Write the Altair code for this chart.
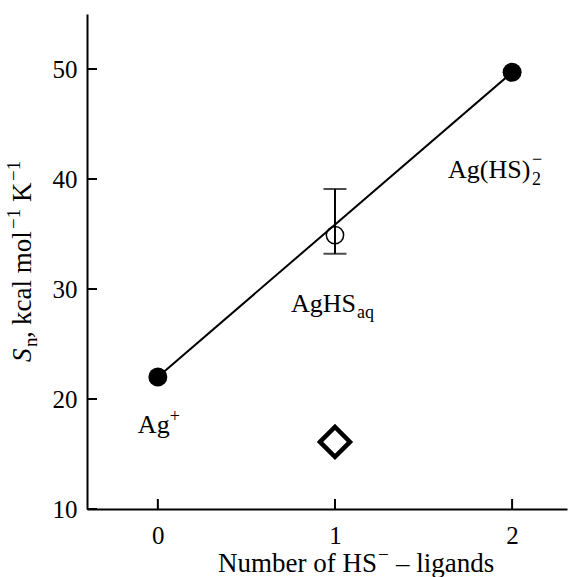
import altair as alt
import pandas as pd

SERIF = "Liberation Serif"

# ---- data ----
filled_n = [0, 2]
filled_s = [22.0, 49.7]

aq_n = [1]
aq_s = [34.9]
aq_lo = [33.2]
aq_hi = [39.1]

dia_n = [1]
dia_s = [16.1]

x_ticks = [0, 1, 2]
y_ticks = [10, 20, 30, 40, 50]

ann_n = [0, 1, 2]
ann_s = [16.9, 27.9, 40.1]
ann_main = ["Ag", "AgHS", "Ag(HS)"]

W, H = 480, 495
xs = alt.Scale(domain=[-0.4, 2.31], nice=False, zero=False)
ys = alt.Scale(domain=[10, 55], nice=False, zero=False)

df_filled = pd.DataFrame({"n": filled_n, "s": filled_s})
df_aq = pd.DataFrame({"n": aq_n, "s": aq_s, "lo": aq_lo, "hi": aq_hi})
df_dia = pd.DataFrame({"n": dia_n, "s": dia_s})
df_xt = pd.DataFrame({"v": x_ticks})
df_yt = pd.DataFrame({"v": y_ticks})
df_ann = [pd.DataFrame({"n": [ann_n[i]], "s": [ann_s[i]]}) for i in range(3)]
df_one = pd.DataFrame({"k": [0]})

X = alt.X("n:Q", scale=xs, axis=alt.Axis(values=x_ticks, format="d", title=None, grid=False, ticks=False,
          tickSize=0, labelFont=SERIF, labelFontSize=25, labelColor="black", labelPadding=14,
          domainColor="black", domainWidth=2))
Y = alt.Y("s:Q", scale=ys, axis=alt.Axis(values=y_ticks, format="d", title=None, grid=False, ticks=False,
          tickSize=0, labelFont=SERIF, labelFontSize=25, labelColor="black", labelPadding=10,
          domainColor="black", domainWidth=2))

base_x = alt.X("n:Q", scale=xs)
base_y = alt.Y("s:Q", scale=ys)

line = alt.Chart(df_filled).mark_line(color="black", strokeWidth=2).encode(x=X, y=Y)
pts = alt.Chart(df_filled).mark_point(shape="circle", filled=True, color="black", size=360, opacity=1).encode(x=base_x, y=base_y)
err = alt.Chart(df_aq).mark_rule(color="black", strokeWidth=2).encode(x=base_x, y=alt.Y("lo:Q", scale=ys), y2="hi:Q")
cap_lo = alt.Chart(df_aq).mark_tick(color="black", thickness=2, size=23, orient="horizontal").encode(x=base_x, y=alt.Y("lo:Q", scale=ys))
cap_hi = alt.Chart(df_aq).mark_tick(color="black", thickness=2, size=23, orient="horizontal").encode(x=base_x, y=alt.Y("hi:Q", scale=ys))
open_pt = alt.Chart(df_aq).mark_point(shape="circle", filled=False, color="black", size=300, strokeWidth=1.5, opacity=1).encode(x=base_x, y=base_y)
dia = alt.Chart(df_dia).mark_point(shape="diamond", filled=False, color="black", size=900, strokeWidth=4.5, opacity=1).encode(x=base_x, y=base_y)

xtick = alt.Chart(df_xt).mark_rule(color="black", strokeWidth=2).encode(
    x=alt.X("v:Q", scale=xs), y=alt.value(H), y2=alt.value(H - 10))
ytick = alt.Chart(df_yt).mark_rule(color="black", strokeWidth=2).encode(
    y=alt.Y("v:Q", scale=ys), x=alt.value(0), x2=alt.value(10))


def ann(i, text, size, dx, dy):
    return alt.Chart(df_ann[i]).mark_text(text=text, font=SERIF, fontSize=size, dx=dx, dy=dy,
                                         align="left", baseline="alphabetic", color="black").encode(x=base_x, y=base_y)


anns = [
    ann(0, ann_main[0], 26, -20, 0),
    ann(0, "+", 18, 12, -11),
    ann(1, ann_main[1], 26, -44, 0),
    ann(1, "aq", 18, 22, 6),
    ann(2, ann_main[2], 26, -64, 0),
    ann(2, "2", 18, 20, 7),
    ann(2, "\u2212", 18, 20, -13),
]


def title_piece(text, size, px, py, dx, dy, angle=0, style="normal"):
    m = alt.Chart(df_one).mark_text(text=text, font=SERIF, fontSize=size, dx=dx, dy=dy,
                                    align="left", baseline="alphabetic", color="black",
                                    angle=angle, fontStyle=style)
    return m.encode(x=alt.value(px), y=alt.value(py))


YX, YY = -56, 348
ytitle = [
    title_piece("S", 27, YX, YY, 0, 0, 270, "italic"),
    title_piece("n", 19, YX, YY, 15, 6, 270),
    title_piece(",", 27, YX, YY, 24, 0, 270),
    title_piece("kcal mol", 27, YX, YY, 37, 0, 270),
    title_piece("\u22121", 19, YX, YY, 133, -11, 270),
    title_piece("K", 27, YX, YY, 160, 0, 270),
    title_piece("\u22121", 19, YX, YY, 181, -11, 270),
]
XX, XY = 131, 558
xtitle = [
    title_piece("Number of HS", 27, XX, XY, 0, 0),
    title_piece("\u2212", 19, XX, XY, 160, -11),
    title_piece("\u2013 ligands", 27, XX, XY, 178, 0),
]

chart = alt.layer(line, err, cap_lo, cap_hi, open_pt, pts, dia, xtick, ytick, *anns, *ytitle, *xtitle).properties(
    width=W, height=H,
    padding={"left": 87, "top": 14, "right": 4, "bottom": 68},
    autosize=alt.AutoSizeParams(type="none"),
    background="white",
).configure_view(stroke=None)

chart.save("out.html", embed_options={"renderer": "svg", "actions": False})
